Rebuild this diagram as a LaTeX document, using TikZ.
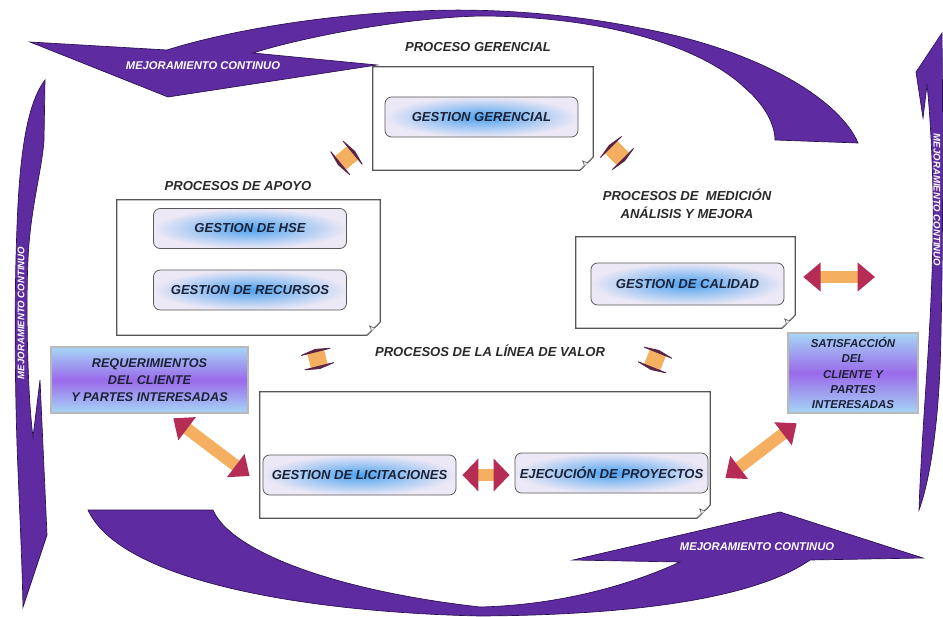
\documentclass[tikz,border=0pt]{standalone}
\usepackage{fontspec}
\setmainfont{Liberation Sans}
\usetikzlibrary{arrows.meta,calc}

\definecolor{mcpurple}{HTML}{5E2CA0}
\definecolor{mcedge}{HTML}{2A1052}
\definecolor{lav}{HTML}{ECE8F6}
\definecolor{glow}{HTML}{4EA2EE}
\definecolor{txtnavy}{HTML}{1C2238}
\definecolor{hdrcol}{HTML}{2A2A2A}
\definecolor{frameg}{HTML}{555555}
\definecolor{arrbody}{HTML}{F4B060}
\definecolor{arrhead}{HTML}{B52D55}
\definecolor{flathead}{HTML}{5A2446}
\definecolor{boxblue}{HTML}{A6D6F6}
\definecolor{boxpurp}{HTML}{9A6AEA}

\newcommand\foldframe[1]{%
  \draw[frameline] (#1.north west) -- (#1.north east) -- ([yshift=10pt]#1.south east) -- ([xshift=-10pt]#1.south east) -- (#1.south west) -- cycle;
  \draw[frameline, line width=0.5pt] ([yshift=10pt]#1.south east) .. controls ([xshift=-4pt,yshift=5pt]#1.south east) .. ([xshift=-8pt,yshift=7pt]#1.south east) .. controls ([xshift=-6pt,yshift=3pt]#1.south east) .. ([xshift=-10pt]#1.south east);}

\begin{document}
\begin{tikzpicture}[x=0.75pt,y=-0.75pt,
  hdr/.style={font=\fontsize{9.8}{13.5}\selectfont\bfseries\itshape, text=hdrcol, align=center},
  gbox/.style={draw=gray!70!black, line width=0.6pt, rounded corners=5pt, inner color=glow, outer color=lav,
     minimum width=144.75pt, minimum height=30pt, inner sep=1pt, font=\fontsize{9.8}{11}\selectfont\bfseries\itshape, text=txtnavy},
  frame/.style={inner sep=0pt},
  frameline/.style={draw=frameg, line width=0.8pt, fill=white},
  cbox/.style={draw=black!80, double=gray!55, double distance=0.8pt, top color=boxblue, bottom color=boxblue,
     middle color=boxpurp, text=txtnavy, align=center, inner sep=0pt},
  mcarrow/.style={fill=mcpurple, draw=mcedge, line width=0.5pt},
  mctext/.style={font=\fontsize{8.4}{9}\selectfont\bfseries\itshape, text=white},
  fat/.style={line width=9pt, draw=arrbody, {Triangle[width=21pt,length=13pt,color=arrhead]}-{Triangle[width=21pt,length=13pt,color=arrhead]}},
  flat/.style={line width=13pt, draw=arrbody, {Triangle[width=30pt,length=2.5pt,color=flathead]}-{Triangle[width=30pt,length=2.5pt,color=flathead]}},
]
\fill[white] (0,0) rectangle (943,617);
\useasboundingbox (0,0) rectangle (943,617);

% ---- purple "mejoramiento continuo" arrows
\path[mcarrow] (30,42) -- (168,97) -- (377,65) -- (253,53)
  .. controls (300,38) and (400,18) .. (480,16)
  .. controls (600,16) and (700,45) .. (745,88)
  .. controls (765,105) and (775,125) .. (775,140)
  -- (858,143)
  .. controls (840,100) and (760,50) .. (640,28)
  .. controls (560,12) and (480,8) .. (420,11)
  .. controls (330,14) and (230,30) .. (167,50) -- cycle;
\node[mctext] (mc1) at (203,66) {MEJORAMIENTO CONTINUO};

\path[mcarrow] (45,80)
  .. controls (30,100) and (20,140) .. (17,227)
  .. controls (14,300) and (15,400) .. (18,470)
  .. controls (20,520) and (22,560) .. (23,607)
  -- (47,535) -- (40,380) -- (33,437)
  .. controls (27,390) and (26,300) .. (28,260)
  .. controls (30,210) and (42,170) .. (44,140)
  -- cycle;
\node[mctext, font=\fontsize{7.2}{8}\selectfont\bfseries\itshape, rotate=90] (mc2) at (21,313) {MEJORAMIENTO CONTINUO};

\path[mcarrow] (88,510) -- (213,510)
  .. controls (230,550) and (330,590) .. (480,607)
  .. controls (560,605) and (630,585) .. (680,562)
  -- (573,560) -- (780,512) -- (923,558) -- (810,560)
  .. controls (760,595) and (650,615) .. (480,616)
  .. controls (300,612) and (120,580) .. (88,510) -- cycle;
\node[mctext] (mc3) at (757,547) {MEJORAMIENTO CONTINUO};

\path[mcarrow] (942,33) -- (916,72) -- (923,118) -- (927,85)
  .. controls (930,110) and (934,180) .. (933,230)
  .. controls (932,330) and (922,420) .. (919,510)
  .. controls (930,480) and (940,420) .. (941,330)
  .. controls (943,250) and (943,120) .. (942,33) -- cycle;
\node[mctext, font=\fontsize{7.2}{8}\selectfont\bfseries\itshape, rotate=-90] (mc4) at (937,200) {MEJORAMIENTO CONTINUO};

% ---- headers
\node[hdr] (lG) at (478,47) {PROCESO GERENCIAL};
\node[hdr] (lA) at (238,186) {PROCESOS DE APOYO};
\node[hdr] (lM) at (687,204) {PROCESOS DE\ \ MEDICIÓN\\ANÁLISIS Y MEJORA};
\node[hdr] (lV) at (490,351) {PROCESOS DE LA LÍNEA DE VALOR};

% ---- frames
\node[frame, minimum width=165pt, minimum height=77.25pt] (fG) at (483,118.5) {};
\foldframe{fG}
\node[frame, minimum width=197.25pt, minimum height=101.25pt] (fA) at (248.5,267.5) {};
\foldframe{fA}
\node[frame, minimum width=164.25pt, minimum height=68.25pt] (fM) at (685.5,282.5) {};
\foldframe{fM}
\node[frame, minimum width=337.5pt, minimum height=94.5pt] (fV) at (485,455) {};
\foldframe{fV}

% ---- inner boxes
\node[gbox] (bGer) at (481.5,117) {GESTION GERENCIAL};
\node[gbox] (bHSE) at (250,228.5) {GESTION DE HSE};
\node[gbox] (bRec) at (250,290) {GESTION DE RECURSOS};
\node[gbox, minimum height=31.5pt] (bCal) at (687.5,284) {GESTION DE CALIDAD};
\node[gbox] (bLic) at (359.5,475) {GESTION DE LICITACIONES};
\node[gbox] (bEje) at (611.5,473) {EJECUCIÓN DE PROYECTOS};

% ---- client boxes
\node[cbox, minimum width=147.75pt, minimum height=49.5pt, font=\fontsize{9.5}{12.75}\selectfont\bfseries\itshape] (req) at (149.5,380)
  {REQUERIMIENTOS\\DEL CLIENTE\\Y PARTES INTERESADAS};
\node[cbox, minimum width=97.5pt, minimum height=60pt, font=\fontsize{8.6}{11.6}\selectfont\bfseries\itshape] (sat) at (853,373)
  {SATISFACCIÓN\\DEL\\CLIENTE Y\\PARTES\\INTERESADAS};

% ---- fat double arrows
\coordinate (calR) at (875,277);
\draw[fat] ($(fM.east |- calR)+(8,0)$) -- (calR);
\draw[fat, {Triangle[width=24pt,length=12pt,color=arrhead]}-{Triangle[width=24pt,length=12pt,color=arrhead]}]
  ($(bLic.east)+(6,0)$) -- ($(bLic.east -| bEje.west)+(-5,0)$);
\draw[fat] ($(req.south east)+(-75,5)$) -- ($(bLic.west)+(-13,1)$);
\draw[fat] ($(bEje.east)+(17,5)$) -- ($(sat.south west)+(9,10)$);

% ---- flattened (perspective) arrows between process groups
\coordinate (s1a) at (338,165); \coordinate (s1b) at (355,151);
\coordinate (s2a) at (609,145); \coordinate (s2b) at (625,161);
\coordinate (s3a) at (315,349); \coordinate (s3b) at (320,369);
\coordinate (s4a) at (659,350); \coordinate (s4b) at (651,370);
\draw[flat] (s1a) -- (s1b);
\draw[flat] (s2a) -- (s2b);
\draw[flat] (s3a) -- (s3b);
\draw[flat] (s4a) -- (s4b);
\end{tikzpicture}
\end{document}
